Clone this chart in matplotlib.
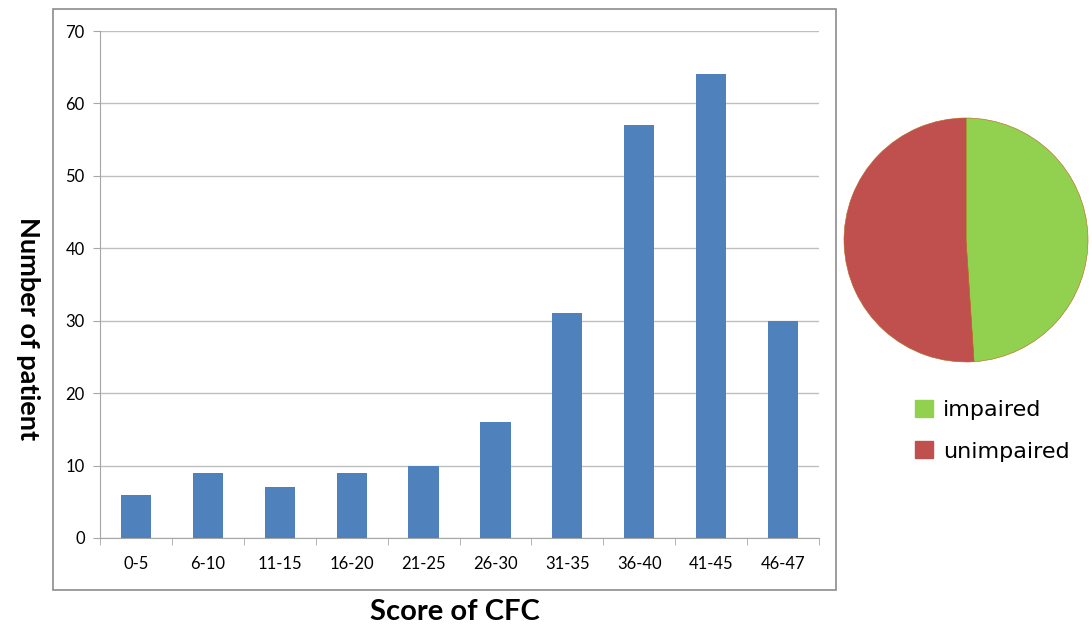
import matplotlib.pyplot as plt
from matplotlib.patches import Rectangle, Patch

# Histogram of CFC scores
scoreBins = ["0-5", "6-10", "11-15", "16-20", "21-25", "26-30", "31-35", "36-40", "41-45", "46-47"]
patientCounts = [6, 9, 7, 9, 10, 16, 31, 57, 64, 30]

# Pie split
pieLabels = ["impaired", "unimpaired"]
pieValues = [117, 122]
pieColors = ["#92D050", "#C0504D"]
barColor = "#4F81BD"
gray = "#A6A6A6"

plt.rcParams["font.family"] = ["Lato", "DejaVu Sans"]

fig = plt.figure(figsize=(10.92, 6.3), dpi=100)

# Outer frame round the bar chart (as in the Excel export)
fig.patches.append(Rectangle((53 / 1092, 1 - 590 / 630), 783 / 1092, 581 / 630,
                             transform=fig.transFigure, fill=False,
                             edgecolor="#8C8C8C", linewidth=1.2))

ax = fig.add_axes([100 / 1092, 1 - 538 / 630, 719 / 1092, 507 / 630])
x = list(range(len(scoreBins)))
ax.bar(x, patientCounts, width=0.42, color=barColor, zorder=3)
ax.set_xlim(-0.5, len(scoreBins) - 0.5)
ax.set_ylim(0, 70)
ax.set_yticks(range(0, 71, 10))
ax.yaxis.grid(True, color="#BFBFBF", linewidth=1)
ax.set_axisbelow(True)
for side in ["top", "right"]:
    ax.spines[side].set_visible(False)
ax.spines["left"].set_color(gray)
ax.spines["bottom"].set_color(gray)
ax.set_xticks(x)
ax.set_xticklabels(scoreBins, fontsize=12)
ax.tick_params(axis="x", length=0, pad=13)
ax.set_xticks([i + 0.5 for i in range(-1, len(scoreBins))], minor=True)
ax.tick_params(axis="x", which="minor", length=5, color=gray)
ax.tick_params(axis="y", length=5, color=gray, labelsize=12, pad=6)

fig.text(28 / 1092, 1 - 329 / 630, "Number of patient", rotation=-90,
         ha="center", va="center", fontsize=19.5, fontweight="bold")
fig.text(455 / 1092, 1 - 612 / 630, "Score of CFC", ha="center", va="center",
         fontsize=21, fontweight="bold")

# Pie on the right
pax = fig.add_axes([844 / 1092, 1 - 362 / 630, 244 / 1092, 244 / 630])
pax.pie(pieValues, colors=pieColors, startangle=90, counterclock=False,
        wedgeprops={"edgecolor": "#B5651D", "linewidth": 0.4})
pax.set_xlim(-1.0, 1.0)
pax.set_ylim(-1.0, 1.0)
pax.set_aspect("equal")

handles = [Patch(color=c) for c in pieColors]
fig.legend(handles, pieLabels, loc="upper left",
           bbox_to_anchor=(895 / 1092, 1 - 380 / 630), frameon=False,
           prop={"family": "DejaVu Sans", "size": 16}, handlelength=0.8,
           handleheight=0.8, handletextpad=0.45, labelspacing=0.95)

fig.savefig("out.png", dpi=100)
